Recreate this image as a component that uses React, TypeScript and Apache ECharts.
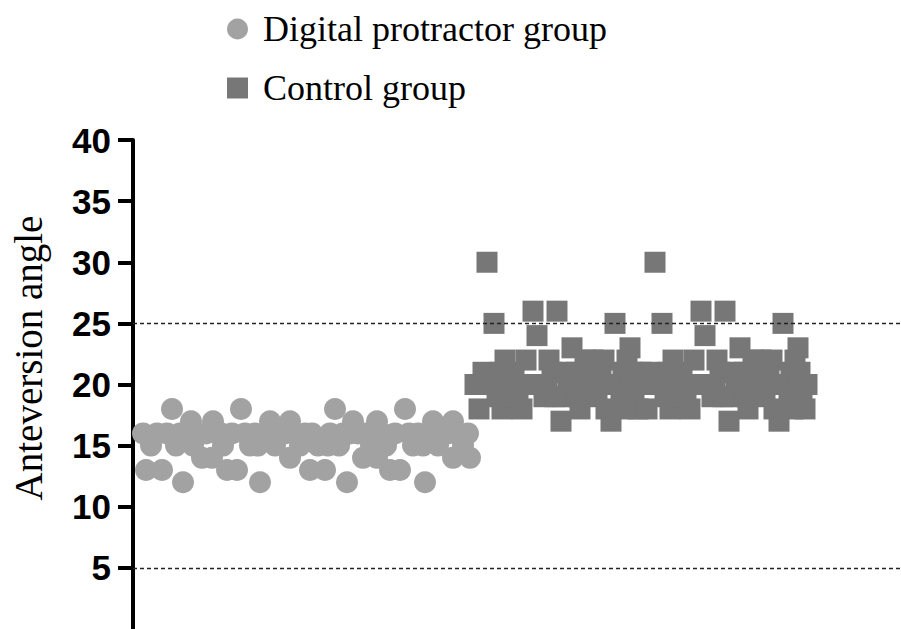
import React, { useEffect, useRef } from "react";
import * as echarts from "echarts";

// Y axis ticks
const yTicks = [5, 10, 15, 20, 25, 30, 35, 40];
const referenceLines = [25, 5];
const seriesNames = ["Digital protractor group", "Control group"];

// Digital protractor group: jitter position and anteversion angle
const protractorJitter = [
  10, 13, 18, 24, 29, 34, 39, 43, 47, 50, 54, 58, 63, 69, 73, 79, 80, 85, 90, 94,
  99, 104, 108, 112, 117, 122, 127, 132, 137, 142, 147, 152, 157, 157, 162, 167, 172,
  177, 179, 185, 192, 197, 202, 206, 210, 214, 217, 220, 225, 230, 233, 238, 244, 244,
  249, 253, 257, 262, 267, 272, 276, 280, 285, 292, 295, 300, 305, 310, 315, 320, 320,
  325, 330, 335, 337,
  60, 88, 125, 140, 195, 240, 290, 302,
];
const protractorAngle = [
  16, 13, 15, 16, 13, 16, 18, 15, 16, 12, 16, 17, 16, 14, 16, 14, 17, 16, 15, 13,
  16, 13, 18, 16, 15, 16, 12, 16, 17, 15, 16, 16, 17, 14, 16, 15, 16,
  13, 16, 15, 13, 16, 18, 15, 16, 12, 16, 17, 16, 14, 16, 15, 14, 17,
  16, 15, 13, 16, 13, 18, 16, 15, 16, 12, 16, 17, 15, 16, 16, 17, 14,
  16, 15, 16, 14,
  15, 16, 15, 16, 15, 16, 15, 16,
];

// Control group: jitter position and anteversion angle
const controlJitter = [
  342, 346, 354, 361, 364, 369, 372, 376, 381, 385, 389, 393, 400, 404, 407, 411, 416, 419,
  424, 428, 431, 435, 439, 443, 447, 452, 456, 460, 464, 468, 473, 478, 482, 486, 490, 494,
  497, 501, 505, 508,
  510, 514, 522, 529, 532, 537, 540, 544, 549, 553, 557, 561, 568, 572, 575, 579, 584, 587,
  592, 596, 599, 603, 607, 611, 615, 620, 624, 628, 632, 636, 641, 646, 650, 654, 658, 662,
  665, 669, 672, 674,
  350, 358, 367, 379, 387, 397, 414, 422, 433, 445, 450, 458, 466, 471, 476, 488, 492, 499, 503,
  518, 526, 535, 547, 555, 565, 582, 590, 601, 613, 618, 626, 634, 639, 644, 656, 660, 667, 671,
];
const controlAngle = [
  20, 18, 30, 25, 19, 18, 22, 20, 21, 19, 18, 22, 26, 24, 20, 19, 22, 21,
  26, 17, 19, 20, 23, 21, 18, 22, 20, 22, 19, 21, 18, 17, 25, 20, 21, 22,
  23, 19, 18, 21,
  20, 18, 30, 25, 19, 18, 22, 20, 21, 19, 18, 22, 26, 24, 20, 19, 22, 21,
  26, 17, 19, 20, 23, 21, 18, 22, 20, 22, 19, 21, 18, 17, 25, 20, 21, 22,
  23, 19, 18, 20,
  21, 20, 21, 19, 20, 20, 20, 19, 21, 19, 20, 21, 20, 22, 20, 19, 18, 21, 20,
  21, 20, 21, 19, 20, 20, 20, 19, 21, 19, 20, 21, 20, 22, 20, 19, 18, 21, 20,
];

export default function App() {
  const ref = useRef<HTMLDivElement>(null);

  useEffect(() => {
    document.body.style.margin = "0";
    if (!ref.current) return;
    const chart = echarts.init(ref.current, null, { renderer: "svg" });
    const protractorData = protractorJitter.map((x, i) => [x, protractorAngle[i]]);
    const controlData = controlJitter.map((x, i) => [x, controlAngle[i]]);

    chart.setOption({
      animation: false,
      backgroundColor: "#ffffff",
      legend: {
        data: seriesNames,
        orient: "vertical",
        left: 222,
        top: 6,
        itemWidth: 21,
        itemHeight: 21,
        itemGap: 23,
        textStyle: {
          fontFamily: "Liberation Serif",
          fontSize: 36,
          lineHeight: 36,
          color: "#000000",
          padding: [0, 0, 0, 10],
        },
      },
      grid: { left: 133, right: 0, top: 140, bottom: -2.4, containLabel: false },
      xAxis: {
        type: "value",
        min: 0,
        max: 768,
        show: false,
      },
      yAxis: {
        type: "value",
        min: 0,
        max: yTicks[yTicks.length - 1],
        interval: 5,
        axisLine: { show: true, lineStyle: { color: "#000000", width: 4 } },
        axisTick: { show: true, length: 15, lineStyle: { color: "#000000", width: 4 } },
        axisLabel: {
          margin: 22,
          fontFamily: "Liberation Sans",
          fontWeight: "bold",
          fontSize: 35,
          color: "#000000",
          showMinLabel: false,
        },
        splitLine: { show: false },
      },
      graphic: [
        {
          type: "text",
          x: 28,
          y: 358,
          rotation: Math.PI / 2,
          style: {
            text: "Anteversion angle",
            fontFamily: "Liberation Serif",
            fontSize: 39,
            fill: "#000000",
            align: "center",
            verticalAlign: "middle",
          },
        },
      ],
      series: [
        {
          name: seriesNames[1],
          type: "scatter",
          symbol: "rect",
          symbolSize: 21,
          itemStyle: { color: "#777777", opacity: 1 },
          data: controlData,
          z: 2,
        },
        {
          name: seriesNames[0],
          type: "scatter",
          symbol: "circle",
          symbolSize: 22,
          itemStyle: { color: "#a2a2a2", opacity: 1 },
          data: protractorData,
          z: 3,
        },
        {
          name: "reference",
          type: "line",
          data: [],
          z: 5,
          markLine: {
            silent: true,
            symbol: "none",
            label: { show: false },
            lineStyle: { color: "#222222", width: 1.3, type: [4, 3] },
            data: referenceLines.map((v) => ({ yAxis: v })),
          },
        },
      ],
    });
    return () => chart.dispose();
  }, []);

  return (
    <div
      ref={ref}
      style={{ position: "absolute", left: 0, top: 0, width: 901, height: 629 }}
    />
  );
}
